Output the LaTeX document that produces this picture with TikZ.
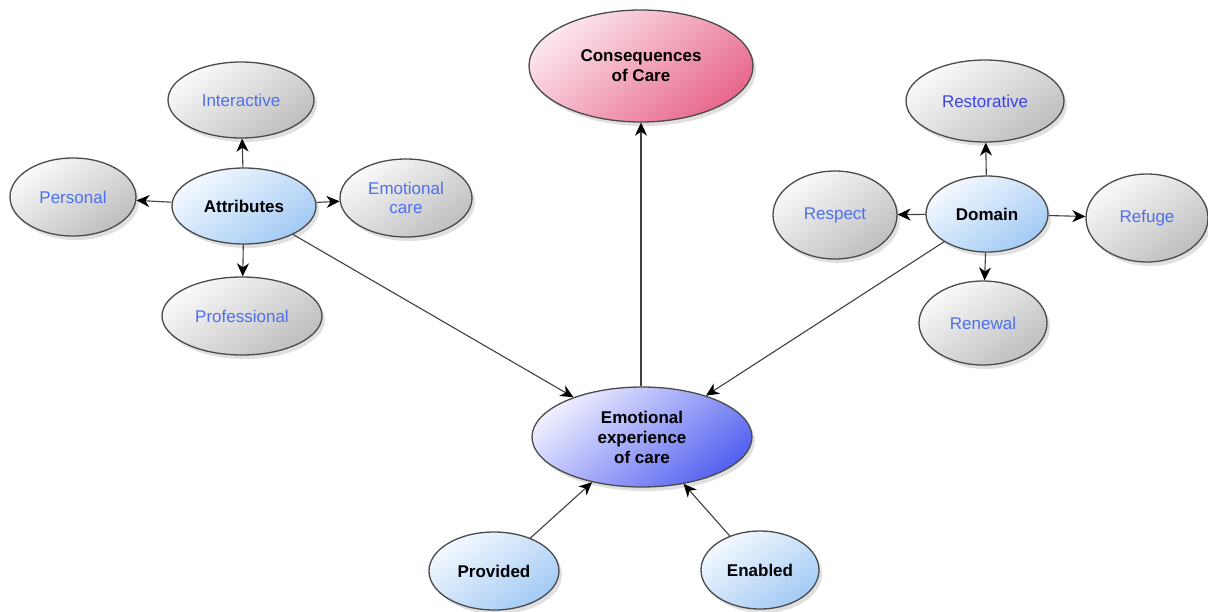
\documentclass[tikz,border=0pt]{standalone}
\usepackage{fontspec}
\setmainfont{Liberation Sans}
\usetikzlibrary{arrows.meta,shadows,shapes.geometric}
\definecolor{leaftext}{HTML}{4C70EE}
\definecolor{leaftextb}{HTML}{3A44E6}
\definecolor{edgecol}{HTML}{404040}
\definecolor{bordercol}{HTML}{4A4A4A}
\definecolor{hubtop}{HTML}{F4F9FF}
\definecolor{hubbot}{HTML}{A2CAF4}
\definecolor{coretop}{HTML}{EEEEFF}
\definecolor{corebot}{HTML}{5462F0}
\definecolor{contop}{HTML}{FCE6EC}
\definecolor{conbot}{HTML}{E8688C}
\definecolor{leaftop}{HTML}{FAFAFA}
\definecolor{leafbot}{HTML}{BEBEBE}
\tikzset{
  base/.style={ellipse, draw=bordercol, line width=1.3pt, inner sep=0pt, align=center,
    font=\fontsize{17}{19}\selectfont,
    drop shadow={shadow xshift=3pt, shadow yshift=-4pt, opacity=0.2, fill=black!60}},
  leaf/.style={base, text=leaftext, top color=leaftop, bottom color=leafbot, shading angle=35},
  hub/.style={base, font=\fontsize{17}{19}\selectfont\bfseries, text=black,
    top color=hubtop, bottom color=hubbot, shading angle=35},
  core/.style={base, font=\fontsize{17}{20}\selectfont\bfseries, text=black,
    top color=coretop, bottom color=corebot, shading angle=40},
  conseq/.style={base, font=\fontsize{17}{20}\selectfont\bfseries, text=black,
    top color=contop, bottom color=conbot, shading angle=40},
  conn/.style={draw=edgecol, line width=1.1pt,
    -{Stealth[length=13pt,width=12pt,inset=4pt,color=black]}},
}
\begin{document}
\begin{tikzpicture}[x=1pt,y=-1pt]
\useasboundingbox[fill=white] (0,0) rectangle (1208,611);
% left cluster
\node[leaf, minimum width=146pt, minimum height=76pt] (inter) at (241,100) {Interactive};
\node[leaf, minimum width=126pt, minimum height=78pt] (pers) at (73,197) {Personal};
\node[hub, minimum width=144pt, minimum height=76pt] (attr) at (244,206) {Attributes};
\node[leaf, minimum width=132pt, minimum height=78pt] (emc) at (406,198) {Emotional\\care};
\node[leaf, minimum width=160pt, minimum height=78pt] (prof) at (242,316) {Professional};
% top
\node[conseq, minimum width=224pt, minimum height=112pt] (cons) at (641,66) {Consequences\\of Care};
% right cluster
\node[leaf, text=leaftextb, minimum width=158pt, minimum height=82pt] (rest) at (985,101) {Restorative};
\node[leaf, minimum width=124pt, minimum height=88pt] (resp) at (835,215) {Respect};
\node[hub, minimum width=122pt, minimum height=76pt] (dom) at (987,214) {Domain};
\node[leaf, minimum width=122pt, minimum height=88pt] (ref) at (1147,218) {Refuge};
\node[leaf, minimum width=128pt, minimum height=84pt] (ren) at (983,323) {Renewal};
% centre and bottom
\node[core, minimum width=220pt, minimum height=100pt] (ee) at (642,437) {Emotional\\experience\\of care};
\node[hub, minimum width=130pt, minimum height=78pt] (prov) at (494,571) {Provided};
\node[hub, minimum width=118pt, minimum height=78pt] (enab) at (760,570) {Enabled};
% connectors
\draw[conn] (attr) -- (inter);
\draw[conn] (attr) -- (pers);
\draw[conn] (attr) -- (emc);
\draw[conn] (attr) -- (prof);
\draw[conn] (attr) -- (ee);
\draw[conn] (dom) -- (rest);
\draw[conn] (dom) -- (resp);
\draw[conn] (dom) -- (ref);
\draw[conn] (dom) -- (ren);
\draw[conn] (dom) -- (ee);
\draw[conn] (ee.north -| cons.south) -- (cons.south);
\draw[conn] (prov) -- (ee);
\draw[conn] (enab) -- (ee);
\end{tikzpicture}
\end{document}
